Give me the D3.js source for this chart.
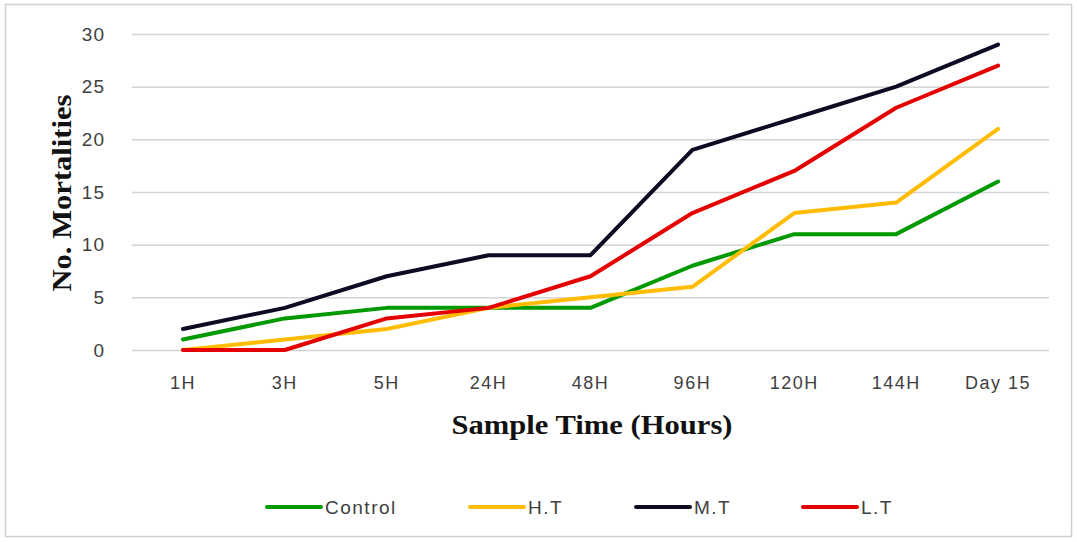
<!DOCTYPE html>
<html>
<head>
<meta charset="utf-8">
<script src="https://cdn.jsdelivr.net/npm/d3@7"></script>
<style>
  body { margin: 0; background: #fff; }
  svg { display: block; }
</style>
</head>
<body>
<svg id="chart" width="1077" height="542"></svg>
<script>
const categories = ['1H', '3H', '5H', '24H', '48H', '96H', '120H', '144H', 'Day 15'];
const control = [1, 3, 4, 4, 4, 8, 11, 11, 16];
const ht = [0, 1, 2, 4, 5, 6, 13, 14, 21];
const mt = [2, 4, 7, 9, 9, 19, 22, 25, 29];
const lt = [0, 0, 3, 4, 7, 13, 17, 23, 27];
const yTicks = [0, 5, 10, 15, 20, 25, 30];

const series = [
    { name: 'Control', values: control, color: '#009a00' },
    { name: 'H.T', values: ht, color: '#ffbc00' },
    { name: 'M.T', values: mt, color: '#0b0b22' },
    { name: 'L.T', values: lt, color: '#e50000' }
];

const svg = d3.select('#chart');
const tickFont = '"Liberation Sans", Arial, sans-serif';
const titleFont = '"Liberation Serif", "Times New Roman", serif';

// outer frame
svg.append('rect')
    .attr('x', 5.5).attr('y', 4.5).attr('width', 1066).attr('height', 532)
    .attr('fill', '#fff').attr('stroke', '#d0d0d0').attr('stroke-width', 1.5);

const xScale = d3.scaleBand().domain(categories).range([132, 1049]);
const yScale = d3.scaleLinear().domain([0, 30]).range([350, 34]);

// gridlines + y labels
const yAxis = d3.axisLeft(yScale).tickValues(yTicks).tickSize(-(1049 - 132)).tickPadding(27);
svg.append('g')
    .attr('transform', 'translate(132,0)')
    .call(function (g) {
        g.call(yAxis);
        g.select('.domain').remove();
        g.selectAll('.tick line').attr('stroke', '#d4d4d4').attr('stroke-width', 1.5);
        g.selectAll('.tick text')
            .attr('fill', '#404040')
            .style('font-family', tickFont)
            .style('font-size', '19px')
            .style('letter-spacing', '1px');
    });

// x labels
const xAxis = d3.axisBottom(xScale).tickSize(0).tickPadding(26);
svg.append('g')
    .attr('transform', 'translate(0,350)')
    .call(function (g) {
        g.call(xAxis);
        g.select('.domain').remove();
        g.selectAll('.tick text')
            .attr('fill', '#404040')
            .style('font-family', tickFont)
            .style('font-size', '18px')
            .style('letter-spacing', '1.5px');
    });

// lines
const line = d3.line()
    .x(function (d, i) { return xScale(categories[i]) + xScale.bandwidth() / 2; })
    .y(function (d) { return yScale(d); });

series.forEach(function (s) {
    svg.append('path')
        .datum(s.values)
        .attr('d', line)
        .attr('fill', 'none')
        .attr('stroke', s.color)
        .attr('stroke-width', 4)
        .attr('stroke-linejoin', 'round')
        .attr('stroke-linecap', 'round');
});

// axis titles
svg.append('text')
    .attr('transform', 'translate(71,193) rotate(-90)')
    .attr('text-anchor', 'middle')
    .attr('textLength', 197)
    .attr('lengthAdjust', 'spacingAndGlyphs')
    .style('font-family', titleFont)
    .style('font-weight', 'bold')
    .style('font-size', '27px')
    .attr('fill', '#111')
    .text('No. Mortalities');

svg.append('text')
    .attr('x', 592).attr('y', 434)
    .attr('text-anchor', 'middle')
    .attr('textLength', 281)
    .attr('lengthAdjust', 'spacingAndGlyphs')
    .style('font-family', titleFont)
    .style('font-weight', 'bold')
    .style('font-size', '27px')
    .attr('fill', '#111')
    .text('Sample Time (Hours)');

// legend
const legendX = [267, 470, 636, 803];
series.forEach(function (s, i) {
    const lg = svg.append('g').attr('transform', 'translate(' + legendX[i] + ',507)');
    lg.append('line')
        .attr('x1', 0).attr('x2', 54).attr('y1', 0).attr('y2', 0)
        .attr('stroke', s.color).attr('stroke-width', 4).attr('stroke-linecap', 'round');
    lg.append('text')
        .attr('x', 58).attr('y', 7)
        .attr('fill', '#404040')
        .style('font-family', tickFont)
        .style('font-size', '19px')
        .style('letter-spacing', '1.5px')
        .text(s.name);
});
</script>
</body>
</html>
